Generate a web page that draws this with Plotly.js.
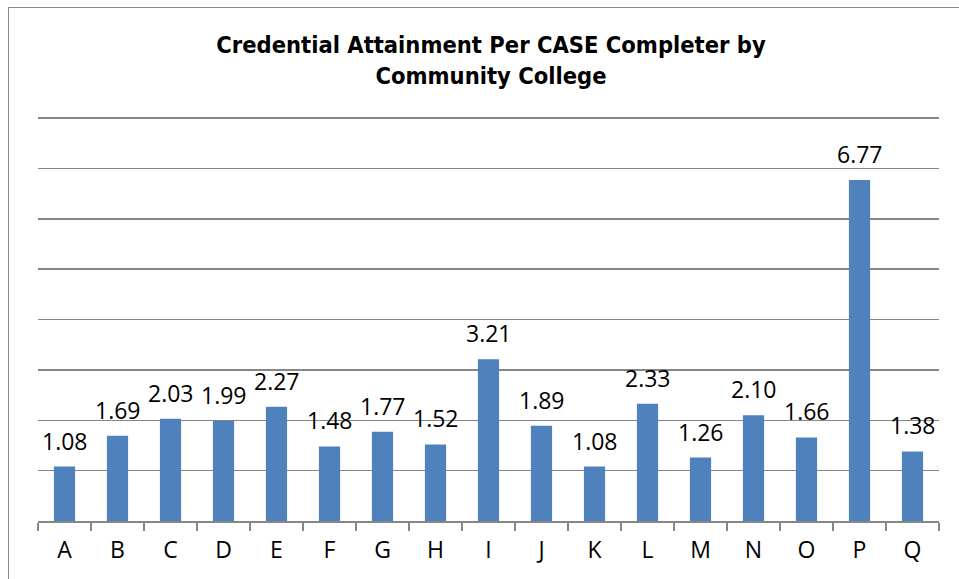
<!DOCTYPE html>
<html><head><meta charset="utf-8">
<script src="https://cdn.plot.ly/plotly-3.0.1.min.js"></script>
<style>
html,body{margin:0;padding:0;background:#fff;overflow:hidden;}
#frame{position:absolute;left:8px;top:7px;width:1200px;height:1200px;border:1.5px solid #8c8c8c;box-sizing:border-box;}
#chart{position:absolute;left:0;top:0;width:959px;height:579px;}
</style></head>
<body>
<div id="frame"></div>
<div id="chart"></div>
<script>
const colleges = ["A","B","C","D","E","F","G","H","I","J","K","L","M","N","O","P","Q"];
const credentialsPerCompleter = [1.08,1.69,2.03,1.99,2.27,1.48,1.77,1.52,3.21,1.89,1.08,2.33,1.26,2.10,1.66,6.77,1.38];
const chartTitle = "Credential Attainment Per CASE Completer by<br>Community College";

const trace = {
  type: "bar",
  x: colleges,
  y: credentialsPerCompleter,
  marker: {color: "#4F81BD", line: {color: "#4F81BD", width: 0}},
  hoverinfo: "x+y"
};

const annotations = colleges.map((c, i) => ({
  x: c, y: credentialsPerCompleter[i], xref: "x", yref: "y",
  text: credentialsPerCompleter[i].toFixed(2),
  showarrow: false, yanchor: "bottom", yshift: 8,
  font: {family: "Open Sans, Liberation Sans, sans-serif", size: 23, color: "#000"}
}));

const layout = {
  width: 959, height: 579,
  paper_bgcolor: "rgba(0,0,0,0)", plot_bgcolor: "rgba(0,0,0,0)",
  margin: {l: 38, r: 20, t: 115, b: 58},
  title: {
    text: chartTitle,
    x: 0.512, xanchor: "center", y: 0.908, yanchor: "top",
    font: {family: "DejaVu Sans Condensed, DejaVu Sans, sans-serif", size: 23.5, color: "#000", weight: "bold"}
  },
  bargap: 0.6,
  showlegend: false,
  xaxis: {
    type: "category",
    showline: true, linecolor: "#868686", linewidth: 1.5,
    ticks: "outside", tickson: "boundaries", ticklen: 8, tickcolor: "#868686", tickwidth: 1.5,
    showgrid: false,
    ticklabelstandoff: 8,
    tickfont: {family: "Open Sans, Liberation Sans, sans-serif", size: 23, color: "#000"},
    fixedrange: true
  },
  yaxis: {
    range: [0, 8.06], dtick: 1, tick0: 0,
    showticklabels: false, ticks: "",
    showgrid: true, gridcolor: "#868686", gridwidth: 1.5,
    zeroline: false, showline: false,
    fixedrange: true
  },
  annotations: annotations
};

Plotly.newPlot("chart", [trace], layout, {displayModeBar: false, staticPlot: true});
</script>
</body></html>
